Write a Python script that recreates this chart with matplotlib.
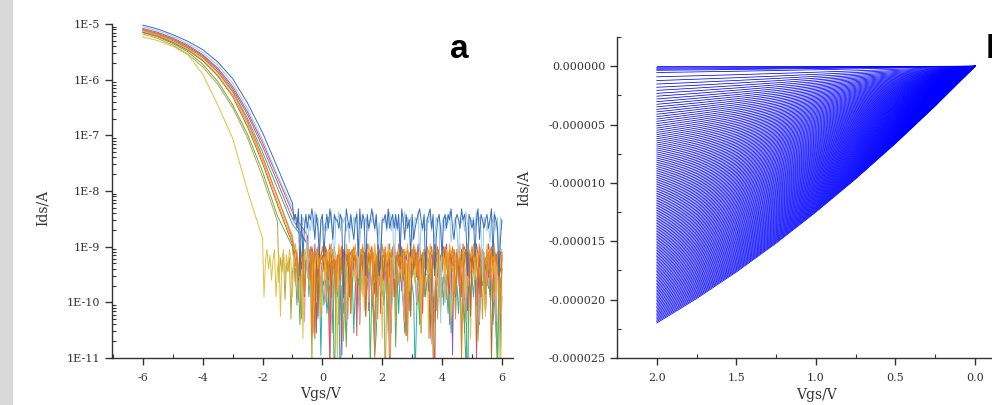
import numpy as np
import matplotlib

matplotlib.use("Agg")

import matplotlib.pyplot as plt
from matplotlib.patches import Rectangle
from matplotlib.ticker import FixedLocator, FuncFormatter, MultipleLocator, NullFormatter


plt.rcParams["font.family"] = "DejaVu Serif"
plt.rcParams["axes.unicode_minus"] = False


# ---- panel a: transfer curves, log10(Ids) ----
# smooth part read every 0.5 V starting at -6 V
smooth_start = -6.0
smooth_step = 0.5
# noisy off-state part read every 0.05 V starting at -2 V
noise_start = -2.0
noise_step = 0.05
noise_end = 6.0

# dip below the noise floor for each code digit, in decades
code_depth = [0.1, 0.0, -0.1, -0.25, -0.45, -0.75, -1.1, -1.5, -1.9, -2.5]

curve_colors = [
    "#2aaea5",  # teal
    "#5aae5a",  # green
    "#9b59b6",  # purple
    "#e89ac0",  # pink
    "#d9534f",  # red
    "#b7a33a",  # olive
    "#e0c040",  # yellow
    "#c0661f",  # dark orange
    "#f0a830",  # gold
    "#e67e22",  # orange
    "#9ccbe8",  # light blue
    "#3b6db5",  # blue
]

curve_smooth = [
    [-5.12, -5.19, -5.30, -5.43, -5.60, -5.86, -6.20, -6.70, -7.30, -7.95, -8.60, -8.95],
    [-5.15, -5.23, -5.35, -5.50, -5.72, -6.03, -6.45, -6.98, -7.65, -8.45, -9.00],
    [-5.08, -5.15, -5.25, -5.38, -5.55, -5.79, -6.12, -6.58, -7.13, -7.75, -8.38, -8.80],
    [-5.14, -5.21, -5.32, -5.46, -5.65, -5.92, -6.27, -6.78, -7.40, -8.12, -8.80],
    [-5.10, -5.17, -5.27, -5.40, -5.57, -5.82, -6.16, -6.63, -7.20, -7.84, -8.50, -8.95],
    [-5.18, -5.26, -5.38, -5.54, -5.77, -6.08, -6.50, -7.05, -7.75, -8.55],
    [-5.23, -5.30, -5.40, -5.55, -5.90, -6.45, -7.05, -8.00, -8.85],
    [-5.15, -5.22, -5.33, -5.47, -5.66, -5.93, -6.30, -6.85, -7.50, -8.25, -8.95],
    [-5.12, -5.20, -5.31, -5.45, -5.64, -5.91, -6.28, -6.80, -7.45, -8.20, -8.90],
    [-5.10, -5.18, -5.28, -5.42, -5.60, -5.86, -6.22, -6.74, -7.38, -8.10, -8.85],
    [-5.05, -5.12, -5.22, -5.35, -5.51, -5.74, -6.06, -6.52, -7.07, -7.72, -8.30],
    [-5.02, -5.09, -5.19, -5.31, -5.46, -5.68, -5.98, -6.42, -6.95, -7.58, -8.22],
]

curve_floor = [-9.45, -9.30, -9.05, -9.25, -9.10, -9.20, -9.15, -9.15, -9.05, -9.10, -8.47, -8.42]

curve_noise = [
    "3214352413 5231726314 2531642135 3412531427 2315432611 4293526314 2631452134 3214576312 4312635214 "
    "2513462311 3485136214 2316452132 4213526314 3524163914 2413652311 3142536727 4235162413",
    "2413526314 3251462137 4125362412 2314652133 3542163294 2631457312 4125362412 3284562131 2541362317 "
    "4312562411 3125462312 2413652134 3524162412 2143568312 4215362132 3412652914 2531462312",
    "3214052316 1423405123 6241352014 3251407213 4125302416 2358142312 1432051324 0631425013 2413507214 "
    "3025142361 4213052413 2541306214 3120452813 1425031642 3140252136 4023152417 2314052913",
    "2431526314 1325742613 3241523162 1432615324 2153486312 3412526143 2315462312 1524316241 3142596312 "
    "2413562141 1325426313 3247562412 2153426312 1432516242 3215462133 2413526312 1352486241",
    "1324051432 6142305124 3015241372 1430251426 3201582314 2410352146 1327042312 4210352416 2305142311 "
    "4130257421 2314052613 1420591423 2031452316 1425302142 3218452316 2410352141 1325042316",
    "1352413621 2413052316 3241506213 1438052612 2305142316 3412751621 2143052313 1325041621 3294052316 "
    "2431052712 1342056213 2413851621 3125042316 1432056212 2314752611 3241052313 1423056292",
    "1520314205 3162041302 5120431703 2051420316 3041205132 8031420513 2041302516 0312405213 7031204152 "
    "3014203516 2041305213 0712304152 3041206513 2031405217 3041205316 2041305129 3014205216",
    "2310421305 1420316024 3102413052 2041370612 1302415032 2140312053 0213420316 3120425013 1402382051 "
    "2130421036 0321402153 1274132021 3021402135 2140320316 1302415023 0218402143 3120412035",
    "1230412031 0421302516 2103412031 0312741232 1042130312 5021340213 1204312061 3021403125 0213081302 "
    "2103412051 3012437212 1402130316 0231402152 1308123012 2041302136 0312405213 1240312031",
    "0213142305 1203412316 2031402153 1207312032 0213412305 2140312316 1032413025 2130482131 0214312035 "
    "1302417312 2031402153 0124312036 2103412025 1328412312 0213402135 2140312306 1203412035",
    "1320213421 2413120531 3212043121 6231302142 1323120451 2031213241 3120642131 2312031425 1213203161 "
    "3241203121 4312052313 1203241218 2131204321 3512130241 2130213612 3241203151 2312142031",
    "2131541302 3512160314 2213061531 3120241352 1531302412 2312740231 3421503126 1320231465 2213032131 "
    "3150241325 1432102316 2103164213 5213120342 1230213612 3252041232 1320512364 2132061213",
]

a_xticks = [-6, -4, -2, 0, 2, 4, 6]
a_yticks = [1e-11, 1e-10, 1e-9, 1e-8, 1e-7, 1e-6, 1e-5]
a_ytick_labels = ["1E-11", "1E-10", "1E-9", "1E-8", "1E-7", "1E-6", "1E-5"]


# ---- panel b: output curves ----
# lower envelope
vds_values = [0.0, 0.25, 0.5, 0.75, 1.0, 1.25, 1.5, 1.75, 2.0]
envelope_ids = [0.0, -0.341e-5, -0.663e-5, -0.966e-5, -1.25e-5, -1.516e-5, -1.763e-5, -1.991e-5, -2.2e-5]
# fraction of the envelope for each curve: a few tiny ones near zero,
# then a sweep that packs closer toward the envelope
small_scales = [0.004, 0.008, 0.012, 0.016]
curve_scales = np.concatenate([small_scales, np.linspace(0.0, 1.0, 141) ** 0.75])

b_xticks = [2.0, 1.5, 1.0, 0.5, 0.0]
b_yticks = [0.0, -0.000005, -0.000010, -0.000015, -0.000020, -0.000025]


fig = plt.figure(figsize=(9.92, 4.05), dpi=100)
fig.patches.append(Rectangle((0, 0), 12 / 992, 1, transform=fig.transFigure,
                             color="#d9d9d9", zorder=0))

spine_color = "#333333"


def style_axes(ax):
    for side in ["top", "right"]:
        ax.spines[side].set_visible(False)
    for side in ["left", "bottom"]:
        ax.spines[side].set_color(spine_color)
        ax.spines[side].set_linewidth(1.0)
    ax.tick_params(which="major", direction="out", length=5, width=1.0,
                   color=spine_color, labelsize=8, labelcolor="#333333")
    ax.tick_params(which="minor", direction="in", length=3, width=0.8, color=spine_color)
    ax.tick_params(axis="x", which="major", pad=6)


# panel a
ax1 = fig.add_axes([112 / 992, 47 / 405, 401 / 992, 334 / 405])

for color, smooth, floor, codes in zip(curve_colors, curve_smooth, curve_floor, curve_noise):
    x_s = smooth_start + smooth_step * np.arange(len(smooth))
    y_s = np.array(smooth)

    codes = codes.replace(" ", "")
    n_pts = int(round((noise_end - noise_start) / noise_step)) + 1
    codes = codes[:n_pts]
    x_n = noise_start + noise_step * np.arange(len(codes))
    y_n = floor + np.array([code_depth[int(c)] for c in codes])
    keep = x_n > x_s[-1] + 1e-9

    x_all = np.concatenate([x_s, x_n[keep]])
    y_all = np.concatenate([y_s, y_n[keep]])
    ax1.plot(x_all, 10 ** y_all, color=color, lw=0.7)

ax1.set_yscale("log")
ax1.set_xlim(-7.03, 6.37)
ax1.set_ylim(1e-11, 1e-5)
ax1.xaxis.set_major_locator(FixedLocator(a_xticks))
ax1.xaxis.set_minor_locator(MultipleLocator(1))
ax1.yaxis.set_major_locator(FixedLocator(a_yticks))
ax1.yaxis.set_major_formatter(FuncFormatter(lambda v, p: a_ytick_labels[a_yticks.index(v)]
                                            if v in a_yticks else ""))
ax1.yaxis.set_minor_formatter(NullFormatter())
style_axes(ax1)
ax1.set_xlabel("Vgs/V", fontsize=10, color="#333333")
ax1.set_ylabel("Ids/A", fontsize=10, color="#333333")
ax1.xaxis.set_label_coords(0.52, -0.088)
ax1.yaxis.set_label_coords(-0.155, 0.45)

# panel b
ax2 = fig.add_axes([617 / 992, 47 / 405, 375 / 992, 321 / 405])

envelope = np.array(envelope_ids)
for s in curve_scales:
    ax2.plot(vds_values, s * envelope, color="#0000ff", lw=0.55)

ax2.set_xlim(2.25, -0.107)
ax2.set_ylim(-0.000025, 0.0000025)
ax2.xaxis.set_major_locator(FixedLocator(b_xticks))
ax2.xaxis.set_minor_locator(MultipleLocator(0.25))
ax2.xaxis.set_major_formatter(FuncFormatter(lambda v, p: "%.1f" % abs(v) if abs(v) < 1e-9 else "%.1f" % v))
ax2.yaxis.set_major_locator(FixedLocator(b_yticks))
ax2.yaxis.set_minor_locator(MultipleLocator(0.0000025))
ax2.yaxis.set_major_formatter(FuncFormatter(lambda v, p: "0.000000" if abs(v) < 1e-12 else "%.6f" % v))
style_axes(ax2)
ax2.set_xlabel("Vgs/V", fontsize=10, color="#333333")
ax2.set_ylabel("Ids/A", fontsize=10, color="#333333")
ax2.xaxis.set_label_coords(0.533, -0.093)
ax2.yaxis.set_label_coords(-0.229, 0.53)

# panel letters
fig.text(450 / 992, (405 - 58) / 405, "a", fontsize=24, fontweight="bold",
         family="Liberation Sans", color="black")
fig.text(986 / 992, (405 - 58) / 405, "b", fontsize=24, fontweight="bold",
         family="Liberation Sans", color="black")

fig.savefig("out.png", dpi=100)
